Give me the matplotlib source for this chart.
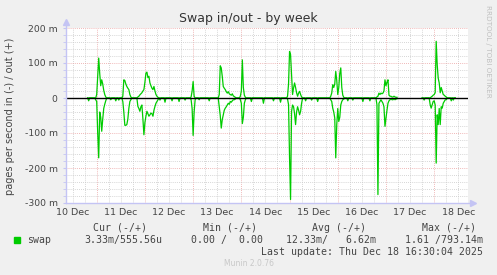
# imports
import numpy as np
import pandas as pd
import matplotlib
matplotlib.use("Agg")
from matplotlib import pyplot as plt
from matplotlib import dates as mdates
from matplotlib import transforms
from matplotlib.patches import Rectangle

# ---- data (values in milli pages/s, 30 min samples) ----
data_start = "2025-12-10 19:30"
data_end = "2025-12-18 10:30"
gap_start = "2025-12-17 06:00"
gap_end = "2025-12-17 17:30"

# bursts of swapping: start time, out (+) values, in (-) values
burst_starts = ["2025-12-10 23:30", "2025-12-11 13:00", "2025-12-11 20:30",
                "2025-12-12 23:00", "2025-12-13 13:00", "2025-12-13 23:30",
                "2025-12-14 23:00", "2025-12-15 20:30", "2025-12-16 19:30",
                "2025-12-17 22:00"]
burst_out = [
    [0, 10, 60, 114, 70, 35, 52, 40, 22, 10, 3],
    [5, 52, 50, 40, 33, 28, 24, 10, 3],
    [3, 5, 9, 12, 15, 20, 24, 45, 71, 74, 58, 62, 43, 35, 28, 24, 33, 20, 10, 5, 2],
    [3, 20, 47, 5, 0],
    [10, 92, 86, 62, 33, 28, 24, 18, 14, 18, 12, 10, 8, 12, 6, 4, 2],
    [5, 20, 109, 30, 8, 2],
    [5, 40, 133, 124, 67, 10, 29, 43, 30, 15, 5, 14, 19, 10, 3],
    [5, 14, 38, 30, 40, 76, 50, 10, 30, 70, 86, 30, 8, 2],
    [3, 5, 14, 10, 14, 12, 14, 20, 52, 35, 45, 52, 8, 5, 5, 3, 3, 5, 3, 2, 2],
    [0, 3, 5, 8, 10, 15, 162, 95, 57, 43, 15, 30, 20, 10, 8, 5, 3],
]
burst_in = [
    [5, 10, 100, 171, 40, 55, 95, 60, 30, 18, 8],
    [10, 40, 78, 78, 76, 60, 30, 10, 5],
    [24, 30, 38, 25, 20, 60, 105, 70, 52, 38, 45, 52, 48, 43, 45, 52, 35, 24, 15, 10, 5],
    [5, 30, 107, 40, 5],
    [24, 50, 86, 62, 48, 35, 29, 25, 20, 15, 18, 10, 12, 8, 5, 5, 3],
    [5, 15, 73, 55, 15, 5],
    [3, 19, 171, 290, 38, 20, 25, 45, 76, 40, 25, 35, 48, 38, 15],
    [5, 10, 29, 40, 57, 171, 76, 30, 67, 55, 20, 10, 5, 3],
    [19, 276, 15, 10, 5, 10, 15, 25, 81, 57, 35, 15, 8, 5, 2, 5, 5, 2, 5, 3, 2],
    [19, 29, 20, 10, 8, 20, 186, 48, 76, 30, 76, 25, 29, 15, 10, 5, 5],
]

# small single swap-in blips between bursts
dip_times = ["2025-12-10 20:00", "2025-12-11 07:00", "2025-12-11 09:30",
             "2025-12-11 11:00", "2025-12-12 07:30", "2025-12-12 10:00",
             "2025-12-12 13:30", "2025-12-12 17:00", "2025-12-12 20:00",
             "2025-12-13 03:00", "2025-12-13 08:00", "2025-12-14 05:00",
             "2025-12-14 11:00", "2025-12-14 16:00", "2025-12-14 19:30",
             "2025-12-15 08:00", "2025-12-15 11:00", "2025-12-15 14:00",
             "2025-12-16 05:00", "2025-12-16 07:30", "2025-12-16 12:30",
             "2025-12-16 16:00", "2025-12-17 19:00", "2025-12-18 08:30",
             "2025-12-18 09:30"]
dip_values = [8, 5, 8, 6, 6, 12, 8, 10, 6, 5, 8, 10, 15, 8, 12, 8, 6, 10,
              8, 6, 10, 8, 6, 8, 6]

view_start = "2025-12-10 08:43"
view_end = "2025-12-18 16:50"
day_labels = ["10 Dec", "11 Dec", "12 Dec", "13 Dec", "14 Dec", "15 Dec",
              "16 Dec", "17 Dec", "18 Dec"]
y_ticks = [200, 100, 0, -100, -200, -300]
y_labels = ["200 m", "100 m", "0", "-100 m", "-200 m", "-300 m"]

legend_head = ["Cur (-/+)", "Min (-/+)", "Avg (-/+)", "Max (-/+)"]
legend_vals = ["3.33m/555.56u", "0.00 /  0.00", "12.33m/   6.62m", "1.61 /793.14m"]

# ---- build the series ----
idx = pd.date_range(data_start, data_end, freq="30min")
swap = pd.DataFrame({"out": 0.0, "in": 0.0}, index=idx)
for start, o, i in zip(burst_starts, burst_out, burst_in):
    t = pd.date_range(start, periods=len(o), freq="30min")
    swap.loc[t, "out"] = o
    swap.loc[t, "in"] = i
swap.loc[pd.to_datetime(dip_times), "in"] = dip_values
swap.loc[gap_start:gap_end] = np.nan

# ---- figure ----
W, H = 497, 275
bg = "#f0f0f0"
axis_col = "#c4c4f4"
txt = "#444444"
green = "#00cc00"

fig = plt.figure(figsize=(W / 100, H / 100), dpi=100, facecolor=bg)
ax = fig.add_axes([66 / W, 1 - 203 / H, (468 - 66) / W, (203 - 28) / H])
ax.set_facecolor("white")

ax.plot(swap.index, swap["out"], color=green, lw=0.9)
ax.plot(swap.index, -swap["in"], color=green, lw=0.9)
ax.axhline(0, color="black", lw=1.0)

ax.set_xlim(pd.Timestamp(view_start), pd.Timestamp(view_end))
ax.set_ylim(-300, 200)

# grid
ax.xaxis.set_major_locator(mdates.DayLocator())
ax.xaxis.set_minor_locator(mdates.HourLocator(byhour=[6, 12, 18]))
ax.set_yticks(y_ticks)
ax.set_yticks(np.arange(-300, 201, 20), minor=True)
ax.grid(which="minor", color="#c8c8c8", lw=0.6, ls=(0, (1, 1.5)))
ax.grid(which="major", color="#eba0a0", lw=0.6, ls=(0, (1, 1.5)))
ax.set_axisbelow(True)

ax.set_xticklabels([])
ax.set_yticklabels(y_labels, fontsize=6.7, color=txt)
ax.tick_params(axis="x", which="both", length=0)
ax.tick_params(axis="y", which="both", length=2, color=axis_col, pad=4)
for s in ax.spines.values():
    s.set_visible(False)

# axis lines with arrows
ax.plot([0, 0], [0, 1.035], transform=ax.transAxes, color=axis_col, lw=1, clip_on=False)
ax.plot([0, 1.01], [0, 0], transform=ax.transAxes, color=axis_col, lw=1, clip_on=False)
ax.plot([0], [1.035], marker="^", ms=4, color=axis_col, transform=ax.transAxes, clip_on=False)
ax.plot([1.012], [0], marker=">", ms=4, color=axis_col, transform=ax.transAxes, clip_on=False)

# day labels centred at noon
trans = transforms.blended_transform_factory(ax.transData, fig.transFigure)
days = pd.date_range("2025-12-10 12:00", periods=len(day_labels), freq="D")
for d, lab in zip(days, day_labels):
    ax.text(mdates.date2num(d), 1 - 212.7 / H, lab, transform=trans,
            ha="center", va="center", fontsize=6.8, color=txt)

# titles and labels
fig.text(0.5, 1 - 18.5 / H, "Swap in/out - by week", ha="center", va="center",
         fontsize=9, color="#333333")
fig.text(10 / W, 1 - 116 / H, "pages per second in (-) / out (+)", rotation=90,
         ha="center", va="center", fontsize=7, color=txt)
fig.text(488 / W, 1 - 5 / H, "RRDTOOL / TOBI OETIKER", rotation=270,
         ha="center", va="top", fontsize=5.2, color="#c0c0c0")

# legend block
mono = "DejaVu Sans Mono"
head_x = [147, 257, 366, 476]
val_x = [162, 263, 376, 483]
for x, t in zip(head_x, legend_head):
    fig.text(x / W, 1 - 227.7 / H, t, ha="right", va="center", family=mono,
             fontsize=7.1, color=txt)
fig.patches.append(Rectangle((14 / W, 1 - 242.5 / H), 5.5 / W, 5.5 / H,
                             transform=fig.transFigure, color=green))
fig.text(26.7 / W, 1 - 240 / H, "swap", ha="left", va="center", family=mono,
         fontsize=7.1, color=txt)
for x, t in zip(val_x, legend_vals):
    fig.text(x / W, 1 - 240 / H, t, ha="right", va="center", family=mono,
             fontsize=7.1, color=txt)
fig.text(483 / W, 1 - 251.7 / H, "Last update: Thu Dec 18 16:30:04 2025",
         ha="right", va="center", family=mono, fontsize=7.1, color=txt)
fig.text(0.5, 1 - 264 / H, "Munin 2.0.76", ha="center", va="center",
         fontsize=5.5, color="#c8c8c8")

fig.savefig("out.png", dpi=100, facecolor=bg)
